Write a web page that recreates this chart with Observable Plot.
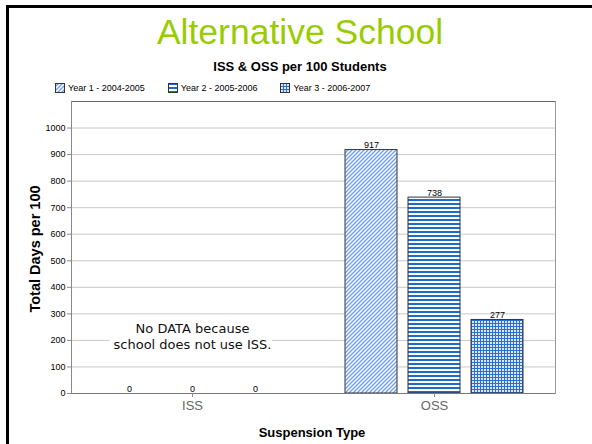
<!DOCTYPE html>
<html>
<head>
<meta charset="utf-8">
<script src="https://cdn.jsdelivr.net/npm/d3@7"></script>
<script src="https://cdn.jsdelivr.net/npm/@observablehq/plot@0.6"></script>
<style>
  html, body { margin: 0; padding: 0; background: #fff; }
  body { width: 592px; height: 444px; position: relative; overflow: hidden; font-family: "Liberation Sans", Arial, sans-serif; }
  #frame { position: absolute; left: 6px; top: 5px; width: 700px; height: 600px; border-left: 3px solid #000; border-top: 3px solid #000; box-sizing: border-box; }
  #title { position: absolute; left: 0; width: 600px; top: 11px; text-align: center; font-size: 35.5px; color: #99cc00; line-height: 42px; }
  #subtitle { position: absolute; left: 0; width: 600px; top: 59px; text-align: center; font-size: 13px; font-weight: bold; color: #000; line-height: 16px; }
  #legend { position: absolute; left: 55px; top: 82px; font-size: 9px; color: #000; display: flex; align-items: center; line-height: 12px; }
  #legend .item { display: flex; align-items: center; margin-right: 23px; }
  #legend svg { margin-right: 3px; }
  #chart { position: absolute; left: 0; top: 95px; }
  #ylabel { position: absolute; left: 35px; top: 249px; transform: translate(-50%, -50%) rotate(-90deg); font-size: 14.5px; font-weight: bold; white-space: nowrap; }
  #xlabel { position: absolute; left: 312px; top: 432px; transform: translate(-50%, -50%); font-size: 13px; font-weight: bold; white-space: nowrap; }
</style>
</head>
<body>
<div id="frame"></div>
<div id="title">Alternative School</div>
<div id="subtitle">ISS &amp; OSS per 100 Students</div>
<div id="legend"></div>
<div id="chart"></div>
<div id="ylabel">Total Days per 100</div>
<div id="xlabel">Suspension Type</div>
<script>
const categories = ["ISS", "OSS"];
const years = ["Year 1 - 2004-2005", "Year 2 - 2005-2006", "Year 3 - 2006-2007"];
const issValues = [0, 0, 0];
const ossValues = [917, 738, 277];
const yTicks = [0, 100, 200, 300, 400, 500, 600, 700, 800, 900, 1000];
const yMax = 1100;
const patternIds = ["pat1", "pat2", "pat3"];
const noteText = "No DATA because\nschool does not use ISS.";
const noteValue = 218;

const data = [];
years.forEach((yr, i) => data.push({cat: "ISS", year: yr, value: issValues[i]}));
years.forEach((yr, i) => data.push({cat: "OSS", year: yr, value: ossValues[i]}));

const chart = Plot.plot({
  width: 592,
  height: 345,
  marginLeft: 70,
  marginRight: 37,
  marginTop: 6,
  marginBottom: 47,
  style: {fontFamily: "'Liberation Sans', Arial, sans-serif", background: "transparent"},
  fx: {domain: categories, padding: 0, label: null},
  x: {domain: years, paddingInner: 0.17, paddingOuter: 0.49, axis: null},
  y: {domain: [0, yMax], axis: null},
  color: {domain: years, range: patternIds.map(id => `url(#${id})`)},
  marks: [
    Plot.gridY(yTicks, {stroke: "#c8c8c8", strokeOpacity: 1}),
    Plot.text([{cat: "ISS", year: years[1], v: noteValue, t: noteText}], {
      fx: "cat", x: "year", y: "v", text: "t",
      fontFamily: "'DejaVu Sans', sans-serif", fontSize: 13, lineHeight: 1.25,
      fill: "#111", stroke: "white", strokeWidth: 12, lineAnchor: "middle"
    }),
    Plot.rectY(data, {fx: "cat", x: "year", y: "value", fill: "year", stroke: "#333", strokeWidth: 1}),
    Plot.text(data, {fx: "cat", x: "year", y: "value", text: d => String(d.value), lineAnchor: "bottom", dy: -2, fontSize: 9, fill: "#000"}),
    Plot.ruleY([yMax], {stroke: "#666"}),
    Plot.ruleY([0], {stroke: "#777"}),
    Plot.frame({anchor: "left", facetAnchor: "left", stroke: "#888"}),
    Plot.frame({anchor: "right", facetAnchor: "right", stroke: "#999"}),
    Plot.axisY(yTicks, {anchor: "left", tickSize: 4, tickPadding: 2, fontSize: 9, stroke: "#888", fill: "#000", label: null, tickFormat: d => String(d)}),
    Plot.axisFx({anchor: "bottom", tickSize: 4, tickPadding: 3, fontSize: 13, stroke: "#888", fill: "#666", label: null})
  ]
});

// pattern definitions
function addPatterns(svgSel) {
  const defs = svgSel.insert("defs", ":first-child");
  const p1 = defs.append("pattern").attr("id", "pat1").attr("patternUnits", "userSpaceOnUse").attr("width", 4).attr("height", 4);
  p1.append("rect").attr("width", 4).attr("height", 4).attr("fill", "#fff");
  p1.append("path").attr("d", "M-1,1 l2,-2 M0,4 l4,-4 M3,5 l2,-2").attr("stroke", "#6e9fe6").attr("stroke-width", 1.3);
  const p2 = defs.append("pattern").attr("id", "pat2").attr("patternUnits", "userSpaceOnUse").attr("width", 4).attr("height", 4);
  p2.append("rect").attr("width", 4).attr("height", 4).attr("fill", "#fff");
  p2.append("rect").attr("width", 4).attr("height", 2).attr("fill", "#1f6cd0");
  const p3 = defs.append("pattern").attr("id", "pat3").attr("patternUnits", "userSpaceOnUse").attr("width", 3).attr("height", 3);
  p3.append("rect").attr("width", 3).attr("height", 3).attr("fill", "#dce8fa");
  p3.append("rect").attr("width", 3).attr("height", 1).attr("fill", "#2a6fd4");
  p3.append("rect").attr("width", 1).attr("height", 3).attr("fill", "#2a6fd4");
}
addPatterns(d3.select(chart));
document.getElementById("chart").appendChild(chart);

// legend
const legend = d3.select("#legend");
years.forEach((yr, i) => {
  const item = legend.append("div").attr("class", "item");
  const sw = item.append("svg").attr("width", 10).attr("height", 10);
  sw.append("rect").attr("x", 0.5).attr("y", 0.5).attr("width", 9).attr("height", 9)
    .attr("fill", `url(#${patternIds[i]})`).attr("stroke", "#333");
  item.append("span").text(yr);
});
</script>
</body>
</html>
